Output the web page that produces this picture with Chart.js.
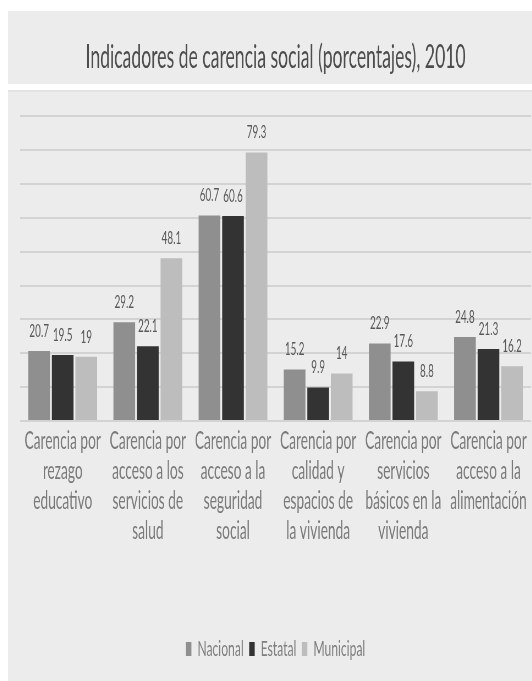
<!DOCTYPE html>
<html>
<head>
<meta charset="utf-8">
<script src="https://cdn.jsdelivr.net/npm/chart.js@4.4.1/dist/chart.umd.min.js"></script>
<style>
  html, body { margin: 0; padding: 0; background: #ffffff; overflow: hidden; }
  body { width: 532px; height: 681px; position: relative; }
  #wrap { position: absolute; left: 8px; top: 11px; width: 953px; height: 670px;
          transform: scaleX(0.55); transform-origin: 0 0; }
  canvas { display: block; }
</style>
</head>
<body>
<div id="wrap"><canvas id="c" width="953" height="670" style="width:953px;height:670px"></canvas></div>
<script>
const categories = [
  ["Carencia por", "rezago", "educativo"],
  ["Carencia por", "acceso a los", "servicios de", "salud"],
  ["Carencia por", "acceso a la", "seguridad", "social"],
  ["Carencia por", "calidad y", "espacios de", "la vivienda"],
  ["Carencia por", "servicios", "básicos en la", "vivienda"],
  ["Carencia por", "acceso a la", "alimentación"]
];
const seriesNames = ["Nacional", "Estatal", "Municipal"];
const nacional = [20.7, 29.2, 60.7, 15.2, 22.9, 24.8];
const estatal = [19.5, 22.1, 60.6, 9.9, 17.6, 21.3];
const municipal = [19, 48.1, 79.3, 14, 8.8, 16.2];
const titleText = "Indicadores de carencia social (porcentajes), 2010";

const FONT = "Lato, 'Open Sans', sans-serif";

const bgPlugin = {
  id: 'bg',
  beforeDraw(chart) {
    const ctx = chart.ctx;
    ctx.save();
    ctx.fillStyle = '#ececec';
    ctx.fillRect(0, 0, chart.width, chart.height);
    ctx.fillStyle = '#ffffff';
    ctx.fillRect(0, 73, chart.width, 6);
    ctx.fillStyle = '#e2e2e2';
    ctx.fillRect(0, 79, chart.width, 2);
    ctx.restore();
  }
};

const valuePlugin = {
  id: 'values',
  afterDatasetsDraw(chart) {
    const ctx = chart.ctx;
    ctx.save();
    ctx.font = "18px " + FONT;
    ctx.fillStyle = '#595959';
    ctx.textAlign = 'center';
    ctx.textBaseline = 'middle';
    chart.data.datasets.forEach((ds, di) => {
      const meta = chart.getDatasetMeta(di);
      meta.data.forEach((bar, i) => {
        ctx.fillText(String(ds.data[i]), bar.x, bar.y - 20);
      });
    });
    ctx.restore();
  }
};

new Chart(document.getElementById('c'), {
  type: 'bar',
  data: {
    labels: categories,
    datasets: [
      { label: seriesNames[0], data: nacional, backgroundColor: '#8f8f8f' },
      { label: seriesNames[1], data: estatal, backgroundColor: '#333333' },
      { label: seriesNames[2], data: municipal, backgroundColor: '#bdbdbd' }
    ]
  },
  options: {
    responsive: false,
    animation: false,
    devicePixelRatio: 1,
    categoryPercentage: 0.83,
    barPercentage: 0.92,
    layout: { padding: { left: 22, right: 2, top: 0, bottom: 11 } },
    plugins: {
      title: {
        display: true,
        text: titleText,
        color: '#4d4d4d',
        font: { family: FONT, size: 32, weight: 'normal', lineHeight: 1.2 },
        padding: { top: 27, bottom: 40 }
      },
      legend: {
        position: 'bottom',
        labels: {
          color: '#7f7f7f',
          font: { family: FONT, size: 22 },
          boxWidth: 10,
          boxHeight: 14,
          padding: 10
        }
      },
      tooltip: { enabled: false }
    },
    scales: {
      x: {
        grid: { display: false, drawTicks: false },
        border: { display: false },
        ticks: {
          color: '#7a7a7a',
          font: { family: FONT, size: 25, lineHeight: 30 / 25 },
          padding: 5,
          maxRotation: 0,
          autoSkip: false
        },
        afterFit(s) { s.height = 207; }
      },
      y: {
        min: 0,
        max: 90,
        ticks: { display: false, stepSize: 10 },
        grid: { color: '#d3d3d3', lineWidth: 2, drawTicks: false },
        border: { display: false },
        afterFit(s) { s.width = 0; }
      }
    }
  },
  plugins: [bgPlugin, valuePlugin]
});
</script>
</body>
</html>
